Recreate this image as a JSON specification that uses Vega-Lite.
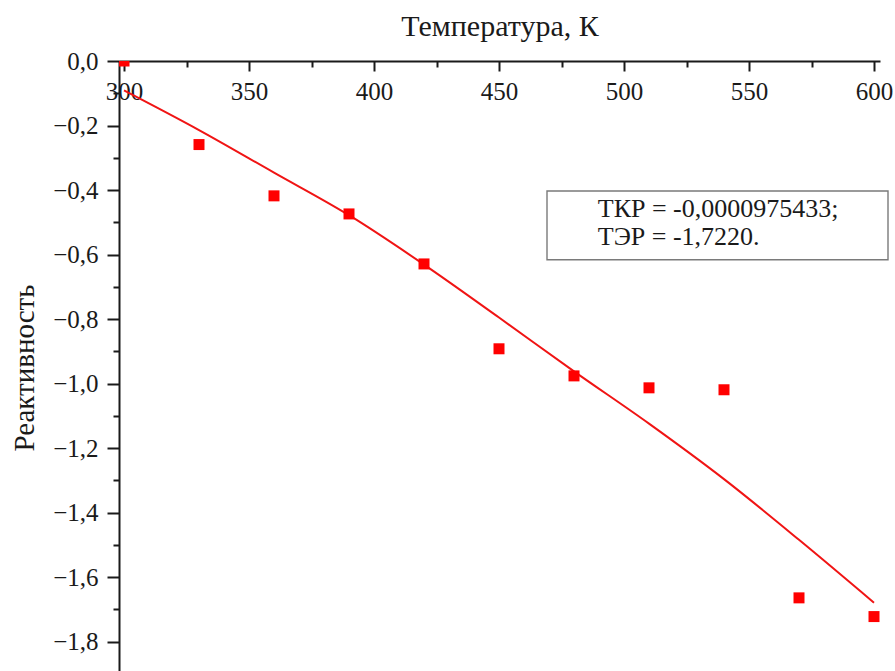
{
  "$schema": "https://vega.github.io/schema/vega-lite/v6.json",
  "autosize": {"type": "none"},
  "padding": {"left": 119, "top": 61, "right": 15, "bottom": 0},
  "width": 761,
  "height": 613,
  "background": "white",
  "config": {
    "view": {"stroke": null},
    "font": "Liberation Serif",
    "axis": {
      "grid": false,
      "domainColor": "#1a1a1a",
      "domainWidth": 2,
      "tickColor": "#1a1a1a",
      "tickWidth": 2,
      "labelFont": "Liberation Serif",
      "labelFontSize": 25,
      "labelColor": "#1a1a1a",
      "titleFont": "Liberation Serif",
      "titleFontSize": 29,
      "titleFontWeight": "normal",
      "titleColor": "#1a1a1a",
      "labelOverlap": false,
      "labelFlush": false
    }
  },
  "resolve": {"axis": {"x": "independent", "y": "independent"}},
  "datasets": {
    "measured": [
      {"T": 300, "rho": 0.0},
      {"T": 330, "rho": -0.259},
      {"T": 360, "rho": -0.418},
      {"T": 390, "rho": -0.474},
      {"T": 420, "rho": -0.629},
      {"T": 450, "rho": -0.892},
      {"T": 480, "rho": -0.976},
      {"T": 510, "rho": -1.013},
      {"T": 540, "rho": -1.019},
      {"T": 570, "rho": -1.664},
      {"T": 600, "rho": -1.722}
    ],
    "fit": [
      {"T": 300, "rho": -0.091},
      {"T": 330, "rho": -0.214},
      {"T": 360, "rho": -0.346},
      {"T": 390, "rho": -0.478},
      {"T": 420, "rho": -0.631},
      {"T": 450, "rho": -0.795},
      {"T": 480, "rho": -0.962},
      {"T": 510, "rho": -1.124},
      {"T": 540, "rho": -1.296},
      {"T": 570, "rho": -1.484},
      {"T": 600, "rho": -1.679}
    ],
    "box": [
      {"T0": 469.2, "T1": 605.6, "r0": -0.403, "r1": -0.616}
    ],
    "notes": [
      {"T": 489.5, "rho": -0.484, "text": "ТКР = -0,0000975433;"},
      {"T": 489.5, "rho": -0.571, "text": "ТЭР = -1,7220."}
    ]
  },
  "layer": [
    {
      "data": {"name": "box"},
      "mark": {"type": "rect", "fill": "white", "stroke": "#7a7a7a", "strokeWidth": 1.4},
      "encoding": {
        "x": {"field": "T0", "type": "quantitative", "axis": null, "scale": {"domain": [298, 602.4], "nice": false, "zero": false}},
        "x2": {"field": "T1"},
        "y": {"field": "r0", "type": "quantitative", "axis": null, "scale": {"domain": [-1.9, 0], "nice": false, "zero": false}},
        "y2": {"field": "r1"}
      }
    },
    {
      "data": {"name": "notes"},
      "mark": {"type": "text", "align": "left", "baseline": "alphabetic", "font": "Liberation Serif", "fontSize": 26, "color": "#1a1a1a"},
      "encoding": {
        "x": {"field": "T", "type": "quantitative", "axis": null},
        "y": {"field": "rho", "type": "quantitative", "axis": null},
        "text": {"field": "text"}
      }
    },
    {
      "data": {"name": "fit"},
      "mark": {"type": "line", "color": "#f01414", "strokeWidth": 2, "interpolate": "monotone"},
      "encoding": {
        "x": {
          "field": "T",
          "type": "quantitative",
          "axis": {
            "orient": "top",
            "title": null,
            "domain": false,
            "labels": false,
            "values": [325, 375, 425, 475, 525, 575],
            "tickSize": -6
          }
        },
        "y": {
          "field": "rho",
          "type": "quantitative",
          "axis": {
            "orient": "left",
            "title": null,
            "domain": false,
            "labels": false,
            "values": [-0.1, -0.3, -0.5, -0.7, -0.9, -1.1, -1.3, -1.5, -1.7, -1.9],
            "tickSize": 6
          }
        }
      }
    },
    {
      "data": {"name": "measured"},
      "mark": {"type": "point", "shape": "square", "filled": true, "color": "#ff0000", "opacity": 1, "size": 121, "clip": true},
      "encoding": {
        "x": {
          "field": "T",
          "type": "quantitative",
          "axis": {
            "orient": "top",
            "title": "Температура, К",
            "titleFontSize": 30,
            "titleY": -26,
            "titleBaseline": "alphabetic",
            "values": [300, 350, 400, 450, 500, 550, 600],
            "tickSize": -10,
            "labelBaseline": "middle",
            "labelPadding": -20.5
          }
        },
        "y": {
          "field": "rho",
          "type": "quantitative",
          "axis": {
            "orient": "left",
            "title": "Реактивность",
            "titleX": -86,
            "titleBaseline": "alphabetic",
            "values": [0, -0.2, -0.4, -0.6, -0.8, -1.0, -1.2, -1.4, -1.6, -1.8],
            "tickSize": 12,
            "labelExpr": "replace(format(datum.value, '.1f'), '.', ',')",
            "labelPadding": 9
          }
        }
      }
    }
  ]
}
